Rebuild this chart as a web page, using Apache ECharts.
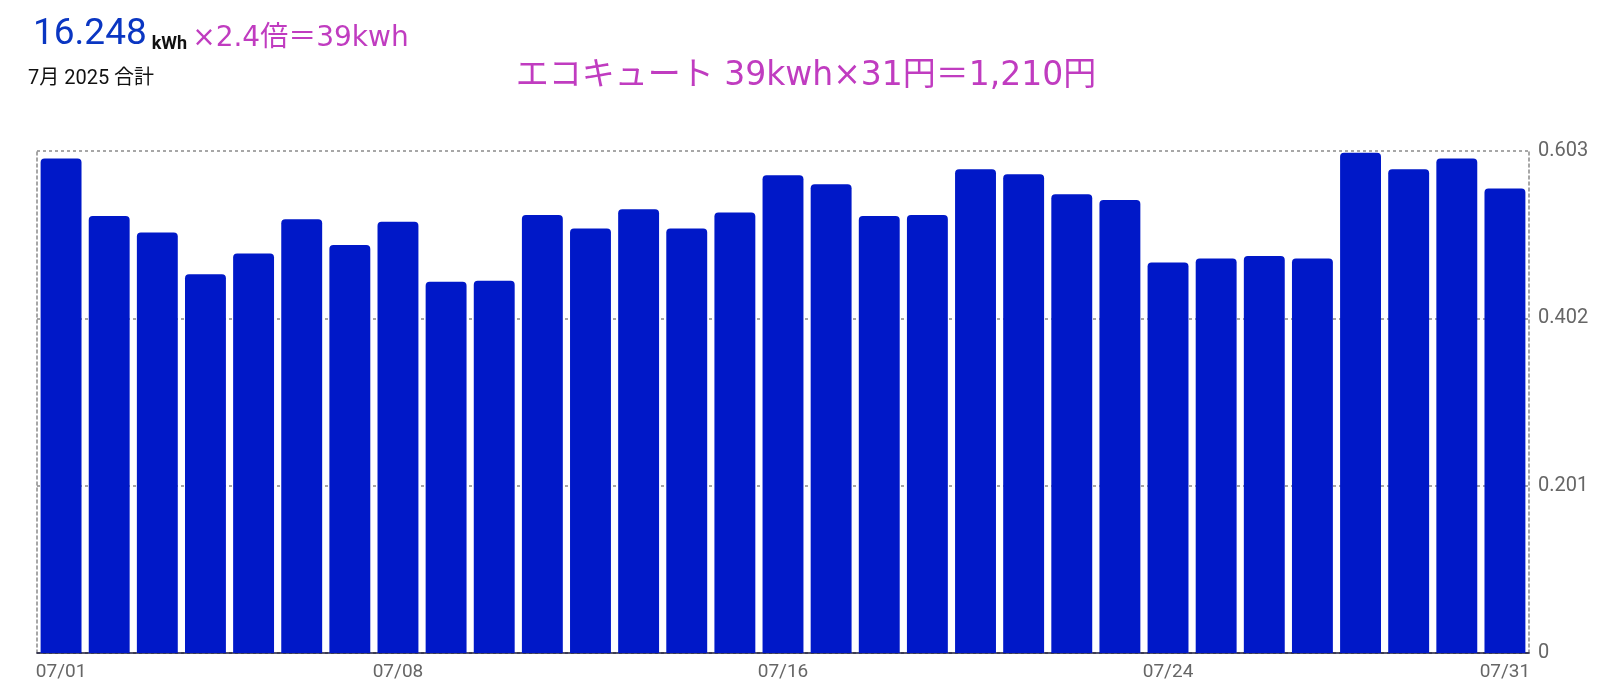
<!DOCTYPE html>
<html><head><meta charset="utf-8">
<script src="https://cdn.jsdelivr.net/npm/echarts@6/dist/echarts.min.js"></script>
<style>html,body{margin:0;padding:0;background:#fff}#c{width:1600px;height:694px}</style>
</head><body><div id="c"></div>
<script>
const days = ['07/01','07/02','07/03','07/04','07/05','07/06','07/07','07/08','07/09','07/10',
  '07/11','07/12','07/13','07/14','07/15','07/16','07/17','07/18','07/19','07/20',
  '07/21','07/22','07/23','07/24','07/25','07/26','07/27','07/28','07/29','07/30','07/31'];
const usage = [0.594,0.525,0.505,0.455,0.480,0.521,0.490,0.518,0.446,0.447,
  0.526,0.510,0.533,0.510,0.529,0.574,0.563,0.525,0.526,0.581,
  0.575,0.551,0.544,0.469,0.474,0.477,0.474,0.601,0.581,0.594,0.558];
const xTickLabels = ['07/01','07/08','07/16','07/24','07/31'];
const yTicks = [0, 0.201, 0.402, 0.603];
const totalText = '16.248';
const unitText = 'kWh';
const noteText = '×2.4倍＝39kwh';
const periodText = '7月 2025 合計';
const costText = 'エコキュート 39kwh×31円＝1,210円';

const chart = echarts.init(document.getElementById('c'));
const yMin = yTicks[0], yMax = yTicks[yTicks.length-1], yStep = yTicks[1]-yTicks[0];
const dashed = {color:'#8a8a8a', width:1.5, type:[3,3]};
const yLabelFmt = v => v === 0 ? '0' : v.toFixed(3);
const magentaFont = '"DejaVu Sans", "Noto Sans CJK JP", sans-serif';
chart.setOption({
  animation:false,
  backgroundColor:'#fff',
  title:[
    {left:28, top:4, text:'{a|'+totalText+'} {b|'+unitText+'} {c|'+noteText+'}',
     textStyle:{fontWeight:'normal', rich:{
       a:{fontFamily:'Roboto', fontSize:37, fontWeight:'normal', color:'#0A36C2', verticalAlign:'bottom', lineHeight:44},
       b:{fontFamily:'Roboto', fontSize:18, fontWeight:'bold', color:'#111', verticalAlign:'bottom', lineHeight:38},
       c:{fontFamily:magentaFont, fontSize:28, fontWeight:'normal', color:'#C03CC0', verticalAlign:'bottom', lineHeight:42}
     }}},
    {left:23, top:64, text:periodText, textStyle:{fontFamily:'Roboto, "Noto Sans CJK JP"', fontSize:20, fontWeight:'normal', color:'#111'}},
    {left:801, top:55, textAlign:'center', text:costText, textStyle:{fontFamily:magentaFont, fontSize:33, fontWeight:'normal', color:'#C03CC0'}}
  ],
  grid:{left:37, right:71, top:151, bottom:41},
  xAxis:{type:'category', data:days, boundaryGap:true,
    axisLine:{show:true, lineStyle:{color:'#1a1a3a', width:1.5}},
    axisTick:{show:false},
    axisLabel:{interval:(i,v)=>xTickLabels.includes(v), fontFamily:'Roboto', fontSize:19, color:'#666', margin:10}},
  yAxis:[
    {type:'value', position:'right', min:yMin, max:yMax, interval:yStep,
     axisLine:{show:true, lineStyle:dashed}, axisTick:{show:false},
     axisLabel:{formatter:yLabelFmt, fontFamily:'Roboto', fontSize:20, color:'#666', margin:9},
     splitLine:{show:true, lineStyle:dashed}},
    {type:'value', position:'left', min:yMin, max:yMax, interval:yStep,
     axisLine:{show:true, lineStyle:dashed}, axisTick:{show:false}, axisLabel:{show:false}, splitLine:{show:false}}
  ],
  series:[{type:'bar', data:usage, yAxisIndex:0, barCategoryGap:'15%',
    itemStyle:{color:'#0018C8', borderRadius:[4,4,0,0]}}]
});
</script></body></html>
